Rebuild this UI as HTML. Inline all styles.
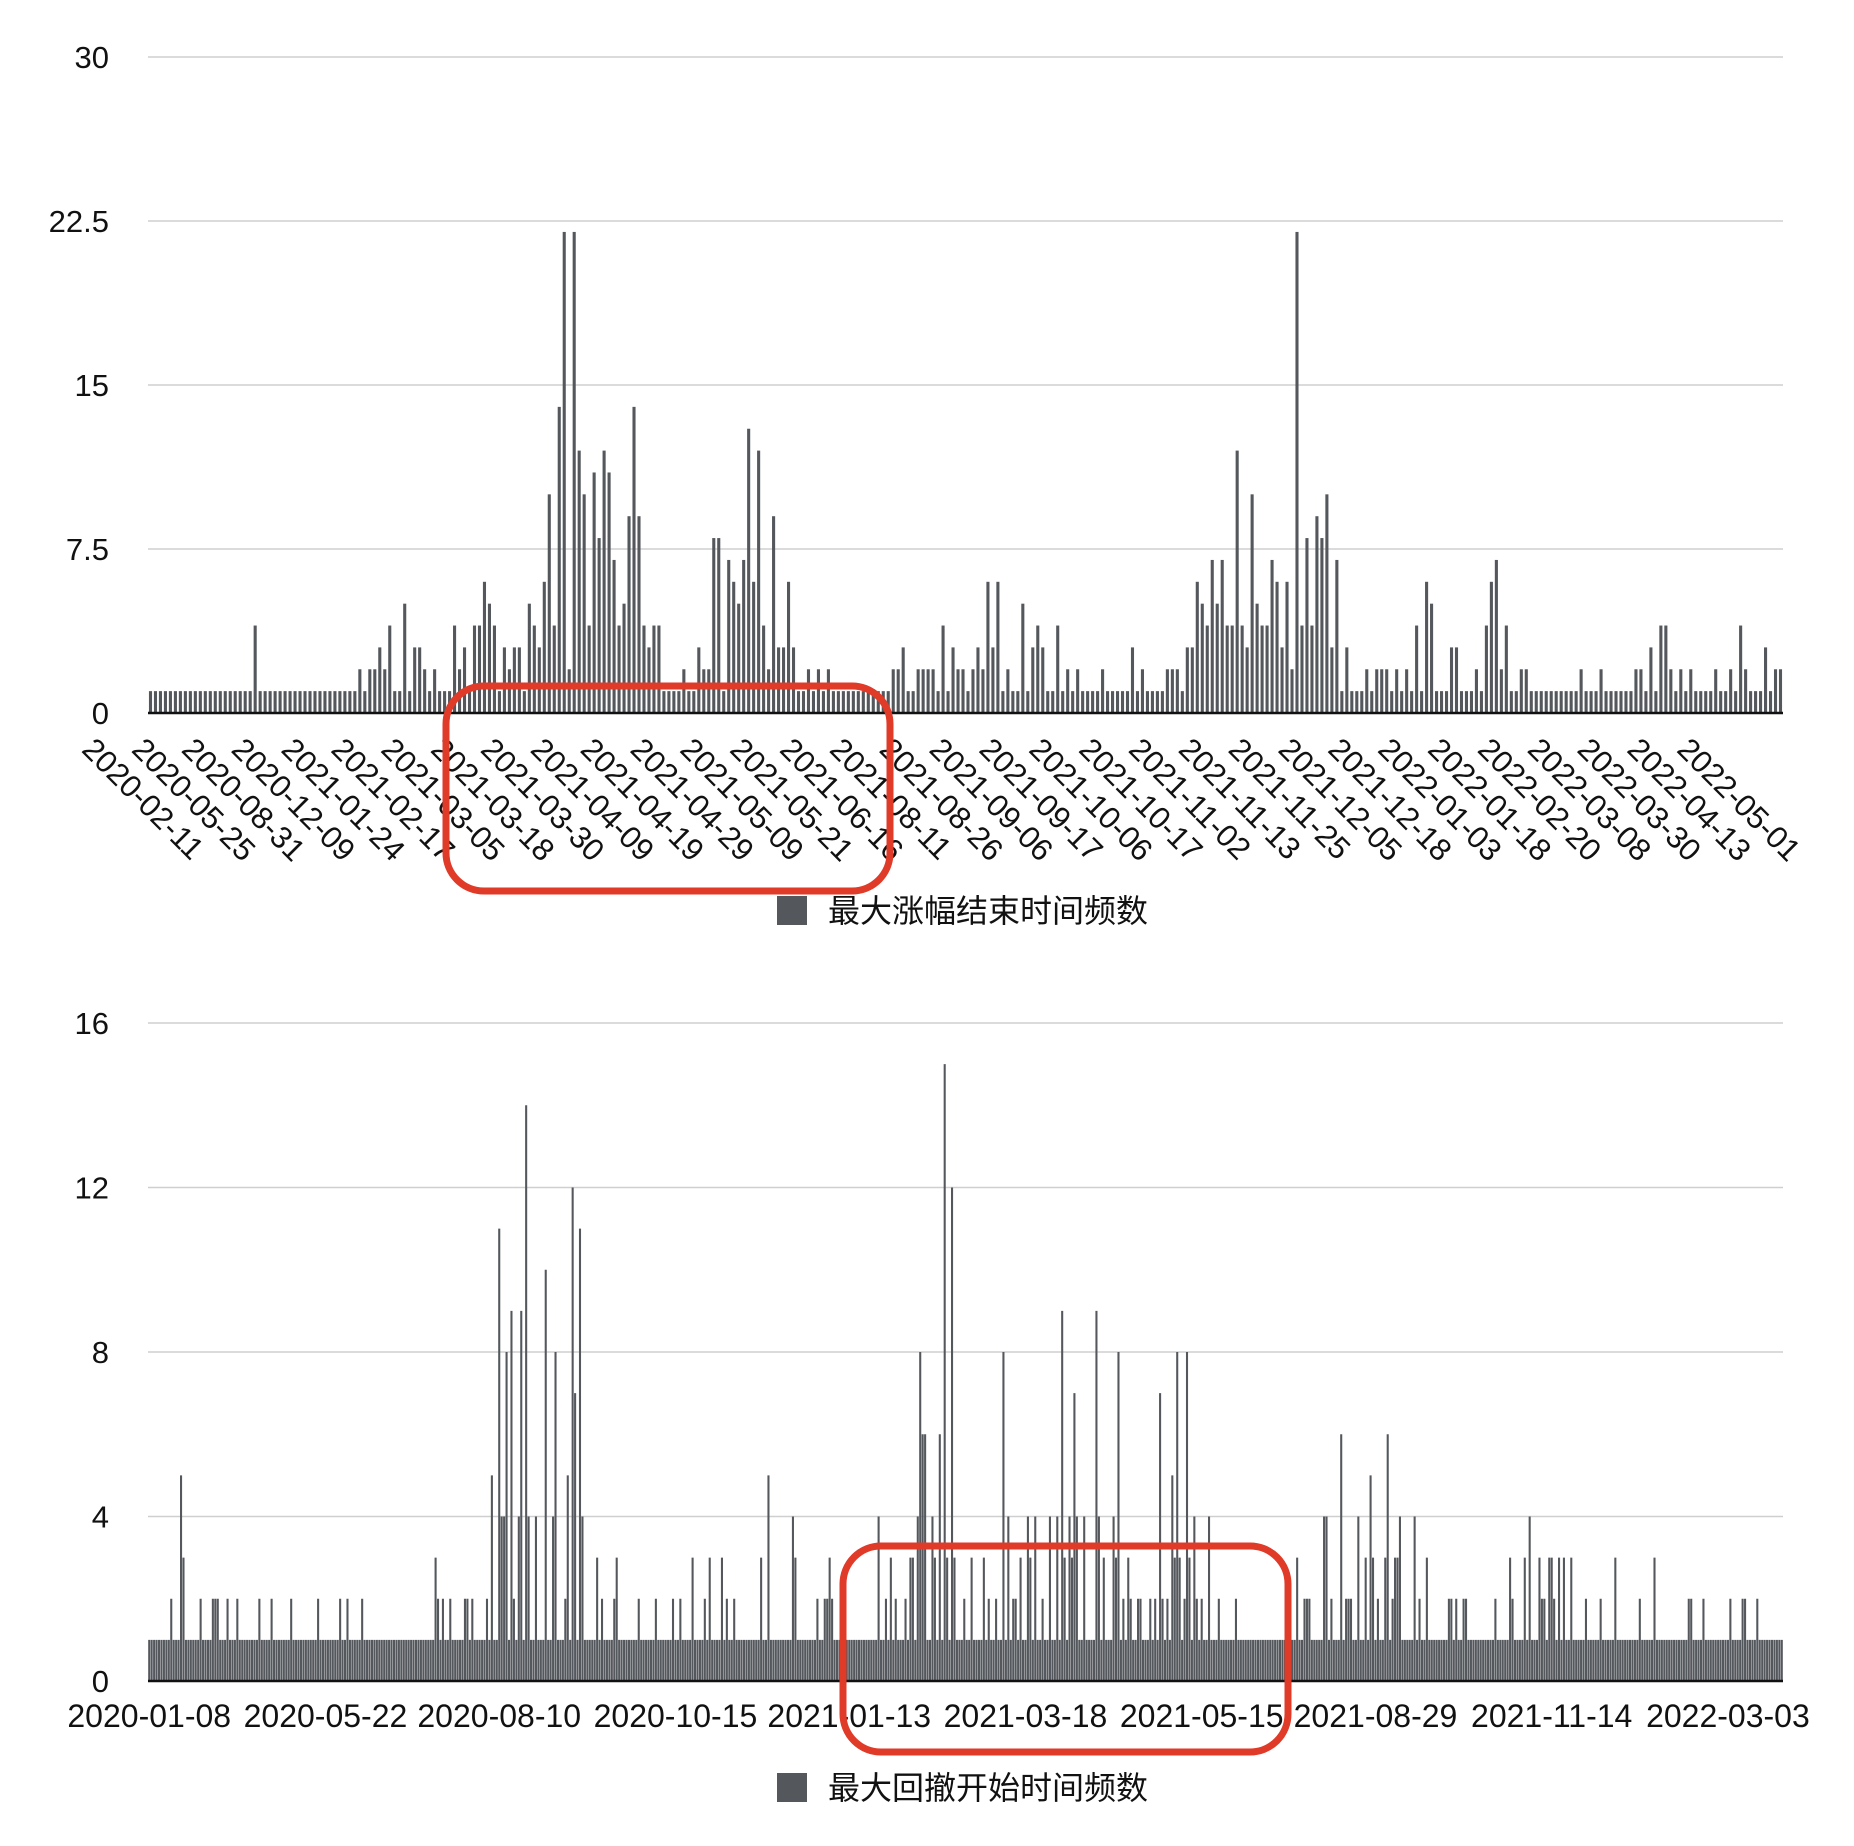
<!DOCTYPE html>
<html><head><meta charset="utf-8"><style>
html,body{margin:0;padding:0;background:#fff;width:1854px;height:1846px;overflow:hidden}
svg{display:block}
text{font-family:"Liberation Sans","Noto Sans CJK SC",sans-serif;fill:#111}
</style></head><body>
<svg id="chart" width="1854" height="1846" viewBox="0 0 1854 1846" xmlns="http://www.w3.org/2000/svg"></svg>
<script>
const topCategoriesLabels = ["2020-02-11","2020-05-25","2020-08-31","2020-12-09","2021-01-24","2021-02-17","2021-03-05","2021-03-18","2021-03-30","2021-04-09","2021-04-19","2021-04-29","2021-05-09","2021-05-21","2021-06-16","2021-08-11","2021-08-26","2021-09-06","2021-09-17","2021-10-06","2021-10-17","2021-11-02","2021-11-13","2021-11-25","2021-12-05","2021-12-18","2022-01-03","2022-01-18","2022-02-20","2022-03-08","2022-03-30","2022-04-13","2022-05-01"];
const topTicks = [0,7.5,15,22.5,30];
const topValues = [
1,1,1,1,1,1,1,1,1,1, 1,1,1,1,1,1,1,1,1,1,
1,4,1,1,1,1,1,1,1,1, 1,1,1,1,1,1,1,1,1,1,
1,1,2,1,2,2,3,2,4,1, 1,5,1,3,3,2,1,2,1,1,
1,4,2,3,1,4,4,6,5,4, 1,3,2,3,3,1,5,4,3,6,
10,4,14,22,2,22,12,10,4,11, 8,12,11,7,4,5,9,14,9,4,
3,4,4,1,1,1,1,2,1,1, 3,2,2,8,8,1,7,6,5,7,
13,6,12,4,2,9,3,3,6,3, 1,1,2,1,2,1,2,1,1,1,
1,1,1,1,1,1,1,1,1,2, 2,3,1,1,2,2,2,2,1,4,
1,3,2,2,1,2,3,2,6,3, 6,1,2,1,1,5,1,3,4,3,
1,1,4,1,2,1,2,1,1,1, 1,2,1,1,1,1,1,3,1,2,
1,1,1,1,2,2,2,1,3,3, 6,5,4,7,5,7,4,4,12,4,
3,10,5,4,4,7,6,3,6,2, 22,4,8,4,9,8,10,3,7,1,
3,1,1,1,2,1,2,2,2,1, 2,1,2,1,4,1,6,5,1,1,
1,3,3,1,1,1,2,1,4,6, 7,2,4,1,1,2,2,1,1,1,
1,1,1,1,1,1,1,2,1,1, 1,2,1,1,1,1,1,1,2,2,
1,3,1,4,4,2,1,2,1,2, 1,1,1,1,2,1,1,2,1,4,
2,1,1,1,3,1,2,2];
const bottomTickLabels = ["2020-01-08","2020-05-22","2020-08-10","2020-10-15","2021-01-13","2021-03-18","2021-05-15","2021-08-29","2021-11-14","2022-03-03"];
const bottomTickIndex = [0,72,143,215,286,358,430,501,573,645];
const bottomTicks = [0,4,8,12,16];
const bottomValues = [
1,1,1,1,1,1,1,1,1,2, 1,1,1,5,3,1,1,1,1,1,
1,2,1,1,1,1,2,2,2,1, 1,1,2,1,1,1,2,1,1,1,
1,1,1,1,1,2,1,1,1,1, 2,1,1,1,1,1,1,1,2,1,
1,1,1,1,1,1,1,1,1,2, 1,1,1,1,1,1,1,1,2,1,
1,2,1,1,1,1,1,2,1,1, 1,1,1,1,1,1,1,1,1,1,
1,1,1,1,1,1,1,1,1,1, 1,1,1,1,1,1,1,3,2,1,
2,1,1,2,1,1,1,1,1,2, 2,1,2,1,1,1,1,1,2,1,
5,1,1,11,4,4,8,1,9,2, 1,4,9,1,14,4,1,1,4,1,
1,1,10,1,1,4,8,1,1,1, 2,5,1,12,7,1,11,4,1,1,
1,1,1,3,1,2,1,1,1,1, 2,3,1,1,1,1,1,1,1,1,
2,1,1,1,1,1,1,2,1,1, 1,1,1,1,2,1,1,2,1,1,
1,1,3,1,1,1,1,2,1,3, 1,1,1,1,3,1,2,1,1,2,
1,1,1,1,1,1,1,1,1,1, 3,1,1,5,1,1,1,1,1,1,
1,1,1,4,3,1,1,1,1,1, 1,1,1,2,1,1,2,2,3,2,
1,1,1,1,1,1,1,1,1,1, 1,1,1,1,1,1,1,1,4,1,
1,2,1,3,1,2,1,1,1,2, 1,3,3,1,4,8,6,6,1,1,
4,3,1,6,1,15,3,1,12,3, 1,1,1,2,1,1,3,1,1,1,
1,3,1,2,1,1,2,1,1,8, 1,4,1,2,2,1,3,1,1,4,
3,1,4,1,1,2,1,1,4,1, 1,4,1,9,3,1,4,3,7,4,
1,1,4,1,1,1,1,9,4,1, 3,1,1,1,4,3,8,1,2,1,
3,2,1,1,2,2,1,1,1,2, 1,2,1,7,2,1,2,1,5,3,
8,3,1,2,8,3,1,4,2,1, 2,1,1,4,1,1,1,2,1,1,
1,1,1,1,2,1,1,1,1,1, 1,1,1,1,1,1,1,1,1,1,
1,1,1,1,1,1,1,1,1,3, 1,1,2,2,2,1,1,1,1,1,
4,4,1,2,1,1,1,6,1,2, 2,2,1,1,4,1,1,3,1,5,
3,1,2,1,1,3,6,1,2,3, 3,4,1,1,1,1,1,4,1,2,
1,1,3,1,1,1,1,1,1,1, 1,2,2,1,2,1,1,2,2,1,
1,1,1,1,1,1,1,1,1,1, 2,1,1,1,1,1,3,2,1,1,
1,1,3,1,4,1,1,1,3,2, 2,1,3,3,2,1,3,1,3,1,
1,3,1,1,1,1,1,2,1,1, 1,1,1,2,1,1,1,1,1,3,
1,1,1,1,1,1,1,1,1,2, 1,1,1,1,1,3,1,1,1,1,
1,1,1,1,1,1,1,1,1,2, 2,1,1,1,1,2,1,1,1,1,
1,1,1,1,1,1,2,1,1,1, 1,2,2,1,1,1,1,2,1,1,
1,1,1,1,1,1,1,1];

const NS = "http://www.w3.org/2000/svg";
const svg = document.getElementById('chart');
const BAR = '#54585d';
const L = 148, R = 1783;
function mk(tag, attrs, parent) {
  const e = document.createElementNS(NS, tag);
  for (const k in attrs) e.setAttribute(k, attrs[k]);
  (parent || svg).appendChild(e);
  return e;
}
function drawChart(cfg) {
  const g = mk('g', {});
  
  
  const maxV = cfg.ticks[cfg.ticks.length - 1];
  const yS = v => cfg.base - v * (cfg.base - cfg.top) / maxV;
  const band = (R - L) / cfg.values.length;
  const xS = i => L + i * band;
  cfg.ticks.forEach(t => {
    const y = yS(t);
    if (t !== 0) {
      const gl = mk('line', {x1: L, x2: R, y1: y, y2: y, stroke: '#cfcfcf', 'stroke-width': 1.6}, g);
      
      
    }
    const tx = mk('text', {x: 109, y: y + 11, 'text-anchor': 'end', 'font-size': 31}, g);
    tx.textContent = String(t);
    
    
  });
  const bw = Math.max(1.6, band * cfg.fill);
  cfg.values.forEach((v, i) => {
    const y = yS(v);
    const r = mk('rect', {x: xS(i) + (band - bw) / 2, y: y, width: bw, height: cfg.base - y, fill: BAR}, g);
    
    
  });
  const ax = mk('line', {x1: L, x2: R, y1: cfg.base, y2: cfg.base, stroke: '#111', 'stroke-width': 2.5}, g);
  
  
  return {xS, band, g};
}
const t = drawChart({name: 'top-bar-chart', values: topValues, ticks: topTicks, top: 57, base: 713, fill: 0.62});
topCategoriesLabels.forEach((lab, k) => {
  const idx = k * 10;
  const x = t.xS(idx) + t.band / 2 - 70;
  const y = 751;
  const tx = mk('text', {x: x, y: y, 'font-size': 31, transform: `rotate(45 ${x} ${y})`}, t.g);
  tx.textContent = lab;
  
  
});
const b = drawChart({name: 'bottom-bar-chart', values: bottomValues, ticks: bottomTicks, top: 1023, base: 1681, fill: 0.85});
bottomTickLabels.forEach((lab, k) => {
  const x = b.xS(bottomTickIndex[k]) + b.band / 2;
  const tx = mk('text', {x: x, y: 1727, 'text-anchor': 'middle', 'font-size': 32}, b.g);
  tx.textContent = lab;
  
  
});
function legend(y, label, name) {
  const g = mk('g', {});
  
  
  const r = mk('rect', {x: 777, y: y, width: 30, height: 29, fill: BAR}, g);
  
  
  const tx = mk('text', {x: 828, y: y + 26, 'font-size': 32}, g);
  tx.textContent = label;
  
  
}
legend(896, '最大涨幅结束时间频数', 'legend-top');
legend(1773, '最大回撤开始时间频数', 'legend-bottom');
const h1 = mk('rect', {x: 446, y: 686, width: 444, height: 205, rx: 38, fill: 'none', stroke: '#e03a28', 'stroke-width': 7});


const h2 = mk('rect', {x: 843, y: 1546, width: 445, height: 206, rx: 38, fill: 'none', stroke: '#e03a28', 'stroke-width': 7});


</script>
</body></html>
